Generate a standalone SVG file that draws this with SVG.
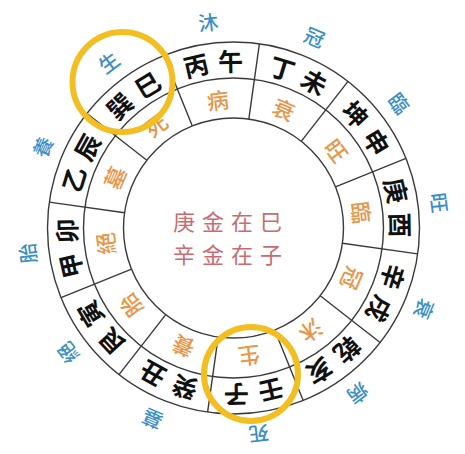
<svg xmlns="http://www.w3.org/2000/svg" width="465" height="454" viewBox="0 0 465 454">
<style>
text{font-family:"Noto Sans CJK TC","Noto Sans CJK SC",sans-serif;text-anchor:middle;dominant-baseline:central}
.ring{fill:none;stroke:#3a3a3a;stroke-width:1.4}
.div{stroke:#3a3a3a;stroke-width:1.4}
.b{font-size:25px;font-weight:700;fill:#111}
.o{font-size:22px;font-weight:500;fill:#E8964A}
.u{font-size:20px;font-weight:500;fill:#3B8FC9}
.c{font-size:22px;font-weight:400;fill:#CC6A72;letter-spacing:7px}
.hl{fill:none;stroke:#F3BE22;stroke-width:6}
</style>
<defs>
<line id="d" class="div" x1="233.5" y1="118" x2="233.5" y2="42"/>
</defs>
<rect width="465" height="454" fill="#fff"/>
<g id="rings">
<circle class="ring" cx="233.5" cy="228" r="186"/>
<circle class="ring" cx="233.5" cy="228" r="150"/>
<circle class="ring" cx="233.5" cy="228" r="110"/>
</g>
<g id="connectors">
<use href="#d" transform="rotate(8 233.5 228)"/>
<use href="#d" transform="rotate(38 233.5 228)"/>
<use href="#d" transform="rotate(68 233.5 228)"/>
<use href="#d" transform="rotate(98 233.5 228)"/>
<use href="#d" transform="rotate(128 233.5 228)"/>
<use href="#d" transform="rotate(158 233.5 228)"/>
<use href="#d" transform="rotate(188 233.5 228)"/>
<use href="#d" transform="rotate(218 233.5 228)"/>
<use href="#d" transform="rotate(248 233.5 228)"/>
<use href="#d" transform="rotate(278 233.5 228)"/>
<use href="#d" transform="rotate(308 233.5 228)"/>
<use href="#d" transform="rotate(338 233.5 228)"/>
</g>
<g id="s-wu">
<text class="b" x="233.5" y="60" transform="rotate(-13 233.5 228)">丙</text>
<text class="b" x="233.5" y="60" transform="rotate(-1 233.5 228)">午</text>
<text class="o" x="233.5" y="98" transform="rotate(-7 233.5 228)">病</text>
<text class="u" x="233.5" y="20" transform="rotate(-7 233.5 228)">沐</text>
</g>
<g id="s-wei">
<text class="b" x="233.5" y="60" transform="rotate(17 233.5 228)">丁</text>
<text class="b" x="233.5" y="60" transform="rotate(29 233.5 228)">未</text>
<text class="o" x="233.5" y="98" transform="rotate(23 233.5 228)">衰</text>
<text class="u" x="233.5" y="20" transform="rotate(23 233.5 228)">冠</text>
</g>
<g id="s-shen">
<text class="b" x="233.5" y="60" transform="rotate(47 233.5 228)">坤</text>
<text class="b" x="233.5" y="60" transform="rotate(59 233.5 228)">申</text>
<text class="o" x="233.5" y="98" transform="rotate(53 233.5 228)">旺</text>
<text class="u" x="233.5" y="20" transform="rotate(53 233.5 228)">臨</text>
</g>
<g id="s-you">
<text class="b" x="233.5" y="60" transform="rotate(77 233.5 228)">庚</text>
<text class="b" x="233.5" y="60" transform="rotate(89 233.5 228)">酉</text>
<text class="o" x="233.5" y="98" transform="rotate(83 233.5 228)">臨</text>
<text class="u" x="233.5" y="20" transform="rotate(83 233.5 228)">旺</text>
</g>
<g id="s-xu">
<text class="b" x="233.5" y="60" transform="rotate(107 233.5 228)">辛</text>
<text class="b" x="233.5" y="60" transform="rotate(119 233.5 228)">戌</text>
<text class="o" x="233.5" y="98" transform="rotate(113 233.5 228)">冠</text>
<text class="u" x="233.5" y="20" transform="rotate(113 233.5 228)">衰</text>
</g>
<g id="s-hai">
<text class="b" x="233.5" y="60" transform="rotate(137 233.5 228)">乾</text>
<text class="b" x="233.5" y="60" transform="rotate(149 233.5 228)">亥</text>
<text class="o" x="233.5" y="98" transform="rotate(143 233.5 228)">沐</text>
<text class="u" x="233.5" y="20" transform="rotate(143 233.5 228)">病</text>
</g>
<g id="s-zi">
<text class="b" x="233.5" y="60" transform="rotate(167 233.5 228)">壬</text>
<text class="b" x="233.5" y="60" transform="rotate(179 233.5 228)">子</text>
<text class="o" x="233.5" y="98" transform="rotate(173 233.5 228)">生</text>
<text class="u" x="233.5" y="20" transform="rotate(173 233.5 228)">死</text>
</g>
<g id="s-chou">
<text class="b" x="233.5" y="60" transform="rotate(197 233.5 228)">癸</text>
<text class="b" x="233.5" y="60" transform="rotate(209 233.5 228)">丑</text>
<text class="o" x="233.5" y="98" transform="rotate(203 233.5 228)">養</text>
<text class="u" x="233.5" y="20" transform="rotate(203 233.5 228)">墓</text>
</g>
<g id="s-yin">
<text class="b" x="233.5" y="60" transform="rotate(227 233.5 228)">艮</text>
<text class="b" x="233.5" y="60" transform="rotate(239 233.5 228)">寅</text>
<text class="o" x="233.5" y="98" transform="rotate(233 233.5 228)">胎</text>
<text class="u" x="233.5" y="20" transform="rotate(233 233.5 228)">絕</text>
</g>
<g id="s-mao">
<text class="b" x="233.5" y="60" transform="rotate(257 233.5 228)">甲</text>
<text class="b" x="233.5" y="60" transform="rotate(269 233.5 228)">卯</text>
<text class="o" x="233.5" y="98" transform="rotate(263 233.5 228)">絕</text>
<text class="u" x="233.5" y="20" transform="rotate(263 233.5 228)">胎</text>
</g>
<g id="s-chen">
<text class="b" x="233.5" y="60" transform="rotate(287 233.5 228)">乙</text>
<text class="b" x="233.5" y="60" transform="rotate(299 233.5 228)">辰</text>
<text class="o" x="233.5" y="98" transform="rotate(293 233.5 228)">墓</text>
<text class="u" x="233.5" y="20" transform="rotate(293 233.5 228)">養</text>
</g>
<g id="s-si">
<text class="b" x="233.5" y="60" transform="rotate(317 233.5 228)">巽</text>
<text class="b" x="233.5" y="60" transform="rotate(329 233.5 228)">巳</text>
<text class="o" x="233.5" y="98" transform="rotate(323 233.5 228)">死</text>
<text class="u" x="233.5" y="20" transform="rotate(323 233.5 228)">生</text>
</g>
<g id="center">
<text class="c" x="231" y="220">庚金在巳</text>
<text class="c" x="231" y="253">辛金在子</text>
</g>
<g id="highlights">
<circle class="hl" cx="122.5" cy="82" r="50"/>
<circle class="hl" cx="251" cy="374" r="47"/>
</g>
</svg>
